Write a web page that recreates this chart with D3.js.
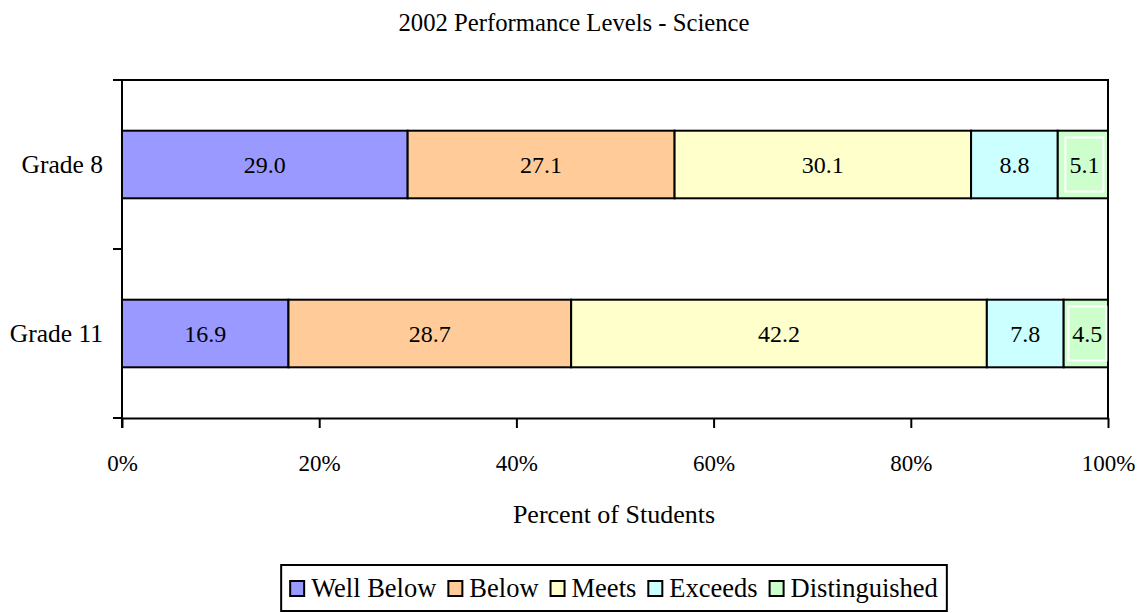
<!DOCTYPE html>
<html><head><meta charset="utf-8">
<script src="https://cdn.jsdelivr.net/npm/d3@7"></script>
<style>body{margin:0;background:#fff}svg{display:block}text{font-family:"Liberation Serif","Times New Roman",serif;fill:#000}</style>
</head><body><svg id="c" width="1137" height="613"></svg>
<script>
const categories = ["Grade 8", "Grade 11"];
const seriesNames = ["Well Below", "Below", "Meets", "Exceeds", "Distinguished"];
const wellBelow = [29.0, 16.9];
const below = [27.1, 28.7];
const meets = [30.1, 42.2];
const exceeds = [8.8, 7.8];
const distinguished = [5.1, 4.5];
const xTicks = [0, 20, 40, 60, 80, 100];
const colors = ["#9999FF", "#FFCC99", "#FFFFCC", "#CCFFFF", "#CCFFCC"];

const svg = d3.select("#c");
const L = 122, R = 1108, T = 80, B = 418;
const x = d3.scaleLinear().domain([0, 100]).range([L, R]);
const y = d3.scaleBand().domain(categories).range([T, B]).paddingInner(0.6).paddingOuter(0.3);

const rows = categories.map((c, i) => {
  const vals = [wellBelow[i], below[i], meets[i], exceeds[i], distinguished[i]];
  const total = d3.sum(vals);
  const o = {cat: c};
  seriesNames.forEach((s, j) => o[s] = vals[j] / total * 100);
  o.raw = vals;
  return o;
});
const stacked = d3.stack().keys(seriesNames)(rows);

// plot area border (top & right)
svg.append("path").attr("d", `M${L},${T}H${R}V${B}`).attr("fill","none").attr("stroke","#000").attr("stroke-width",2);

stacked.forEach((layer, j) => {
  const g = svg.append("g");
  layer.forEach((d, i) => {
    const x0 = x(d[0]), x1 = x(d[1]), yy = y(d.data.cat), h = y.bandwidth();
    g.append("rect").attr("x", x0).attr("y", yy).attr("width", x1 - x0).attr("height", h)
      .attr("fill", colors[j]).attr("stroke", "#000").attr("stroke-width", 2);
  });
});
// labels
stacked.forEach((layer, j) => {
  layer.forEach((d, i) => {
    const x0 = x(d[0]), x1 = x(d[1]), yy = y(d.data.cat), h = y.bandwidth();
    const cx = (x0 + x1) / 2 + (j === 4 ? 1.5 : 0), cy = yy + h / 2;
    const label = d.data.raw[j].toFixed(1);
    const t = svg.append("text").attr("x", cx).attr("y", cy).attr("text-anchor","middle")
      .attr("dominant-baseline","central").attr("font-size", 24).text(label);
    if (j === 4) {
      const w = t.node().getComputedTextLength();
      svg.insert("rect", function(){return t.node();}).attr("x", cx - w/2 - 4).attr("y", cy - 27)
        .attr("width", w + 8).attr("height", 54).attr("fill", colors[j]).attr("stroke", "#fff").attr("stroke-width", 2);
    }
  });
});

// axes
const xAxis = d3.axisBottom(x).tickValues(xTicks).tickFormat(d => d + "%").tickSize(10).tickSizeOuter(0);
const gx = svg.append("g").attr("transform", `translate(0,${B})`).call(xAxis);
gx.select(".domain").attr("stroke-width", 2);
gx.selectAll(".tick line").attr("stroke-width", 2);
gx.selectAll("text").attr("font-size", 23).attr("dy", null).attr("y", 45).attr("dominant-baseline","central");

const yAxis = d3.axisLeft(y).tickSize(0);
const gy = svg.append("g").attr("transform", `translate(${L},0)`).call(yAxis);
gy.select(".domain").remove();
gy.selectAll("text").attr("font-size", 25.5).attr("x", -19).attr("dy", null).attr("dominant-baseline","central");
// y axis line & tick marks at category boundaries
svg.append("line").attr("x1", L).attr("x2", L).attr("y1", T).attr("y2", B + 10).attr("stroke","#000").attr("stroke-width",2);
const bounds = [T, (y(categories[0]) + y.bandwidth() + y(categories[1])) / 2, B];
bounds.forEach(b => svg.append("line").attr("x1", L - 9).attr("x2", L).attr("y1", b).attr("y2", b).attr("stroke","#000").attr("stroke-width",2));

// titles
svg.append("text").attr("x", 574).attr("y", 22).attr("text-anchor","middle").attr("dominant-baseline","central").attr("font-size", 24.7).text("2002 Performance Levels - Science");
svg.append("text").attr("x", 614).attr("y", 514).attr("text-anchor","middle").attr("dominant-baseline","central").attr("font-size", 26).text("Percent of Students");

// legend
const lg = svg.append("g");
const box = lg.append("rect").attr("fill","#fff").attr("stroke","#000").attr("stroke-width",2);
let cx = 0;
seriesNames.forEach((s, j) => {
  lg.append("rect").attr("x", cx).attr("y", -7).attr("width", 14).attr("height", 15).attr("fill", colors[j]).attr("stroke","#000").attr("stroke-width",2);
  const t = lg.append("text").attr("x", cx + 21).attr("y", 0).attr("dominant-baseline","central").attr("font-size", 26.5).text(s);
  cx += 21 + t.node().getComputedTextLength() + 12;
});
const totalW = cx - 12;
const lx = 614 - totalW / 2, ly = 588;
lg.attr("transform", `translate(${lx},${ly})`);
box.attr("x", -9).attr("y", -23).attr("width", totalW + 18).attr("height", 46);
</script></body></html>
